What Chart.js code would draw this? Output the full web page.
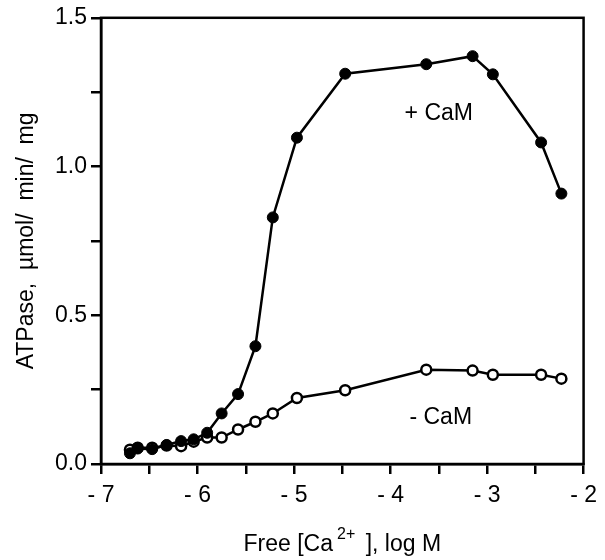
<!DOCTYPE html>
<html>
<head>
<meta charset="utf-8">
<script src="https://cdn.jsdelivr.net/npm/chart.js@4.4.1/dist/chart.umd.min.js"></script>
<style>
  html, body { margin: 0; padding: 0; background: #fff; }
  #wrap { width: 605px; height: 560px; position: relative; }
</style>
</head>
<body>
<div id="wrap"><canvas id="chartATPase"></canvas></div>
<script>
// ═══════════ DATA ═══════════
// Free [Ca2+], log M  →  ATPase (µmol/min/mg)
const xConCaM = [-6.70, -6.62, -6.47, -6.32, -6.17, -6.04, -5.90, -5.75, -5.58, -5.40, -5.22, -4.97, -4.47, -3.63, -3.15, -2.94, -2.44, -2.23];
const yConCaM = [0.036, 0.052, 0.050, 0.064, 0.077, 0.083, 0.105, 0.170, 0.235, 0.396, 0.829, 1.097, 1.312, 1.344, 1.371, 1.310, 1.081, 0.909];

const xSinCaM = [-6.70, -6.62, -6.47, -6.32, -6.17, -6.04, -5.90, -5.75, -5.58, -5.40, -5.22, -4.97, -4.47, -3.63, -3.15, -2.94, -2.44, -2.23];
const ySinCaM = [0.048, 0.055, 0.055, 0.062, 0.060, 0.075, 0.089, 0.089, 0.116, 0.142, 0.170, 0.222, 0.248, 0.317, 0.314, 0.300, 0.300, 0.287];

const etiquetas = ['+ CaM', '- CaM'];
const etiquetasX = [-3.50, -3.48];
const etiquetasY = [1.177, 0.157];

const xMin = -7, xMax = -2, xPaso = 0.5;
const yMin = 0, yMax = 1.5, yPaso = 0.25;

const FUENTE = 'Liberation Sans, Arial, Helvetica, sans-serif';
const TAM = 23;

// ═══════════ PLUGINS ═══════════
const marcoPlugin = {
  id: 'marco',
  beforeDatasetsDraw(chart) {
    const { ctx, chartArea: a } = chart;
    ctx.save();
    ctx.strokeStyle = '#000';
    ctx.lineWidth = 2.5;
    ctx.strokeRect(a.left, a.top, a.right - a.left, a.bottom - a.top);
    ctx.restore();
  }
};

const textosPlugin = {
  id: 'textos',
  afterDraw(chart) {
    const { ctx, scales: { x, y }, chartArea: a } = chart;
    ctx.save();
    ctx.fillStyle = '#000';
    ctx.textBaseline = 'middle';
    ctx.textAlign = 'center';
    ctx.font = `${TAM}px ${FUENTE}`;
    etiquetas.forEach((t, i) => {
      ctx.fillText(t, x.getPixelForValue(etiquetasX[i]), y.getPixelForValue(etiquetasY[i]));
    });

    // título eje X con superíndice
    const partes = [
      { t: 'Free [Ca', f: TAM, dy: 0, pad: 0 },
      { t: '2+', f: 16, dy: -12, pad: 4 },
      { t: ' ], log M', f: TAM, dy: 0, pad: 0 }
    ];
    ctx.textAlign = 'left';
    ctx.textBaseline = 'alphabetic';
    let total = 0;
    partes.forEach(p => { ctx.font = `${p.f}px ${FUENTE}`; p.w = ctx.measureText(p.t).width; total += p.w + p.pad * 2; });
    let cx = (a.left + a.right) / 2 - total / 2;
    const base = 551;
    partes.forEach(p => {
      ctx.font = `${p.f}px ${FUENTE}`;
      cx += p.pad;
      ctx.fillText(p.t, cx, base + p.dy);
      cx += p.w + p.pad;
    });
    ctx.restore();
  }
};

// ═══════════ CHART ═══════════
const puntos = (xs, ys) => xs.map((v, i) => ({ x: v, y: ys[i] }));

new Chart(document.getElementById('chartATPase'), {
  type: 'line',
  data: {
    datasets: [
      {
        label: '+ CaM',
        data: puntos(xConCaM, yConCaM),
        borderColor: '#000',
        backgroundColor: '#000',
        borderWidth: 2.5,
        pointRadius: 5.5,
        pointBorderWidth: 1,
        pointBackgroundColor: '#000',
        pointBorderColor: '#000',
        tension: 0,
        order: 0
      },
      {
        label: '- CaM',
        data: puntos(xSinCaM, ySinCaM),
        borderColor: '#000',
        backgroundColor: '#fff',
        borderWidth: 2.5,
        pointRadius: 5,
        pointBorderWidth: 2.5,
        pointBackgroundColor: '#fff',
        pointBorderColor: '#000',
        tension: 0,
        order: 1
      }
    ]
  },
  options: {
    responsive: true,
    maintainAspectRatio: false,
    animation: false,
    events: [],
    layout: { padding: { left: 0, right: 18, top: 16, bottom: 0 } },
    plugins: {
      legend: { display: false },
      tooltip: { enabled: false }
    },
    scales: {
      x: {
        type: 'linear',
        min: xMin,
        max: xMax,
        grid: { display: true, drawOnChartArea: false, drawTicks: true, tickLength: 10, color: '#000', lineWidth: 2.5 },
        border: { display: true, color: '#000', width: 2.5 },
        ticks: {
          stepSize: xPaso,
          color: '#000',
          padding: 8,
          maxRotation: 0,
          autoSkip: false,
          font: { family: FUENTE, size: TAM },
          callback: v => Number.isInteger(v) ? '- ' + Math.abs(v) : ''
        },
        afterFit(scale) { scale.height = 96; }
      },
      y: {
        type: 'linear',
        min: yMin,
        max: yMax,
        grid: { display: true, drawOnChartArea: false, drawTicks: true, tickLength: 10, color: '#000', lineWidth: 2.5 },
        border: { display: true, color: '#000', width: 2.5 },
        ticks: {
          stepSize: yPaso,
          color: '#000',
          padding: 4,
          autoSkip: false,
          font: { family: FUENTE, size: TAM },
          callback: v => (Math.abs(v * 2 - Math.round(v * 2)) < 1e-9) ? v.toFixed(1) : ''
        },
        title: {
          display: true,
          text: 'ATPase,  µmol/  min/  mg',
          color: '#000',
          font: { family: FUENTE, size: TAM },
          padding: { top: 13, bottom: 0 }
        },
        afterFit(scale) { scale.width = 101; }
      }
    }
  },
  plugins: [marcoPlugin, textosPlugin]
});
</script>
</body>
</html>
